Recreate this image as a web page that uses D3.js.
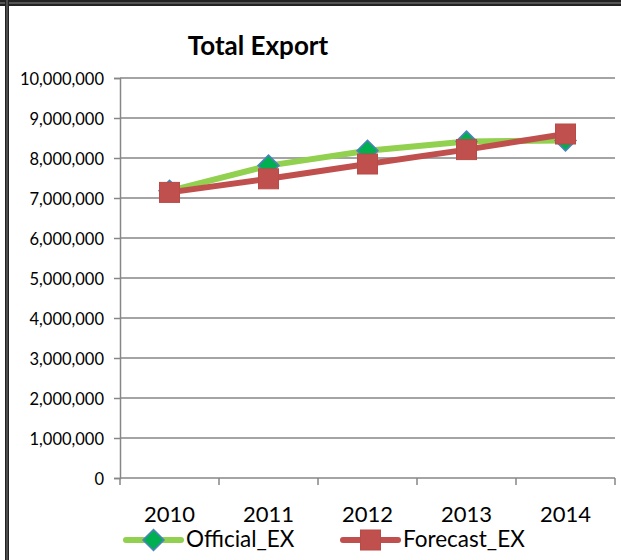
<!DOCTYPE html>
<html>
<head>
<meta charset="utf-8">
<script src="https://cdn.jsdelivr.net/npm/d3@7"></script>
<style>
  html, body { margin: 0; padding: 0; background: #fff; }
  svg { display: block; }
  text { font-family: Lato, "Open Sans", sans-serif; fill: #000; }
</style>
</head>
<body>
<svg id="chart" width="621" height="560"></svg>
<script>
// Years on the category axis
const years = ["2010", "2011", "2012", "2013", "2014"];
// Official and forecast total export figures
const officialEX = [7180000, 7810000, 8180000, 8410000, 8440000];
const forecastEX = [7140000, 7480000, 7850000, 8210000, 8600000];
// Value-axis ticks
const yTicks = [0, 1000000, 2000000, 3000000, 4000000, 5000000, 6000000, 7000000, 8000000, 9000000, 10000000];

const seriesNames = ["Official_EX", "Forecast_EX"];

const svg = d3.select("#chart");

// Sheet cell borders around the chart
svg.append("rect").attr("x", 0).attr("y", 0).attr("width", 621).attr("height", 6).attr("fill", "#222");
svg.append("rect").attr("x", 0).attr("y", 2.5).attr("width", 621).attr("height", 1).attr("fill", "#888");
svg.append("rect").attr("x", 5).attr("y", 0).attr("width", 4).attr("height", 560).attr("fill", "#222");
svg.append("rect").attr("x", 6.5).attr("y", 0).attr("width", 1).attr("height", 560).attr("fill", "#777");

const plot = { left: 120, right: 615, top: 78, bottom: 478 };

const x = d3.scaleBand().domain(years).range([plot.left, plot.right]).padding(0);
const y = d3.scaleLinear().domain([0, 10000000]).range([plot.bottom, plot.top]);

const gridColor = "#868686";

// Horizontal gridlines
svg.append("g")
  .selectAll("line")
  .data(yTicks.filter(d => d > 0))
  .join("line")
  .attr("x1", plot.left).attr("x2", plot.right)
  .attr("y1", d => y(d)).attr("y2", d => y(d))
  .attr("stroke", gridColor).attr("stroke-width", 1.5);

// Value axis
const yAxis = svg.append("g")
  .attr("transform", `translate(${plot.left},0)`)
  .call(d3.axisLeft(y).tickValues(yTicks).tickFormat(d3.format(",")).tickSize(6).tickPadding(10));
yAxis.select(".domain").attr("stroke", gridColor).attr("stroke-width", 1.5);
yAxis.selectAll(".tick line").attr("stroke", gridColor).attr("stroke-width", 1.5);
yAxis.selectAll(".tick text")
  .attr("font-size", 16.5).attr("font-family", "Lato").attr("fill", "#000")
  .attr("x", -16)
  .attr("dy", "0.37em");

// Category axis: labels centred in each band, ticks between categories
const xAxis = svg.append("g")
  .attr("transform", `translate(0,${plot.bottom})`)
  .call(d3.axisBottom(x).tickSize(0));
xAxis.select(".domain").remove();
xAxis.selectAll(".tick text")
  .attr("font-size", 22).attr("font-family", "Lato").attr("fill", "#000")
  .attr("y", 43.5).attr("dy", 0);

const edges = years.map(d => x(d)).concat([x(years[years.length - 1]) + x.bandwidth()]);
svg.append("line")
  .attr("x1", plot.left).attr("x2", plot.right)
  .attr("y1", plot.bottom).attr("y2", plot.bottom)
  .attr("stroke", gridColor).attr("stroke-width", 1.5);
svg.append("g").selectAll("line").data(edges).join("line")
  .attr("x1", d => d).attr("x2", d => d)
  .attr("y1", plot.bottom).attr("y2", plot.bottom + 7)
  .attr("stroke", gridColor).attr("stroke-width", 1.5);

const cx = d => x(d) + x.bandwidth() / 2;
const line = d3.line().x((d, i) => cx(years[i])).y(d => y(d));

// Official series: light green line with green diamonds
svg.append("path").datum(officialEX)
  .attr("d", line)
  .attr("fill", "none").attr("stroke", "#92D050").attr("stroke-width", 6)
  .attr("stroke-linejoin", "round");
const diamond = 10.5;
svg.append("g").selectAll("path").data(officialEX).join("path")
  .attr("transform", (d, i) => `translate(${cx(years[i])},${y(d)})`)
  .attr("d", `M0,${-diamond}L${diamond},0L0,${diamond}L${-diamond},0Z`)
  .attr("fill", "#00B050").attr("stroke", "#4F81BD").attr("stroke-width", 1.5);

// Forecast series: red line with square markers
svg.append("path").datum(forecastEX)
  .attr("d", line)
  .attr("fill", "none").attr("stroke", "#C0504D").attr("stroke-width", 6)
  .attr("stroke-linejoin", "round");
const sq = 20;
svg.append("g").selectAll("rect").data(forecastEX).join("rect")
  .attr("x", (d, i) => cx(years[i]) - sq / 2)
  .attr("y", d => y(d) - sq / 2)
  .attr("width", sq).attr("height", sq)
  .attr("fill", "#C0504D").attr("stroke", "#B84A47").attr("stroke-width", 1);

// Title
svg.append("text")
  .attr("x", 258).attr("y", 55)
  .attr("text-anchor", "middle")
  .attr("font-size", 26).attr("font-weight", "bold")
  .text("Total Export");

// Legend
const legend = svg.append("g");
const legendItems = [
  { name: seriesNames[0], x0: 126, color: "#92D050", marker: "diamond" },
  { name: seriesNames[1], x0: 343, color: "#C0504D", marker: "square" }
];
const ly = 540;
legendItems.forEach(item => {
  legend.append("line")
    .attr("x1", item.x0).attr("x2", item.x0 + 55)
    .attr("y1", ly).attr("y2", ly)
    .attr("stroke", item.color).attr("stroke-width", 6).attr("stroke-linecap", "round");
  if (item.marker === "diamond") {
    legend.append("path")
      .attr("transform", `translate(${item.x0 + 27.5},${ly})`)
      .attr("d", `M0,${-diamond}L${diamond},0L0,${diamond}L${-diamond},0Z`)
      .attr("fill", "#00B050").attr("stroke", "#4F81BD").attr("stroke-width", 1.5);
  } else {
    legend.append("rect")
      .attr("x", item.x0 + 27.5 - sq / 2).attr("y", ly - sq / 2)
      .attr("width", sq).attr("height", sq)
      .attr("fill", "#C0504D").attr("stroke", "#B84A47").attr("stroke-width", 1);
  }
  legend.append("text")
    .attr("x", item.x0 + 60).attr("y", ly + 7)
    .attr("font-size", 22.5)
    .text(item.name);
});
</script>
</body>
</html>
